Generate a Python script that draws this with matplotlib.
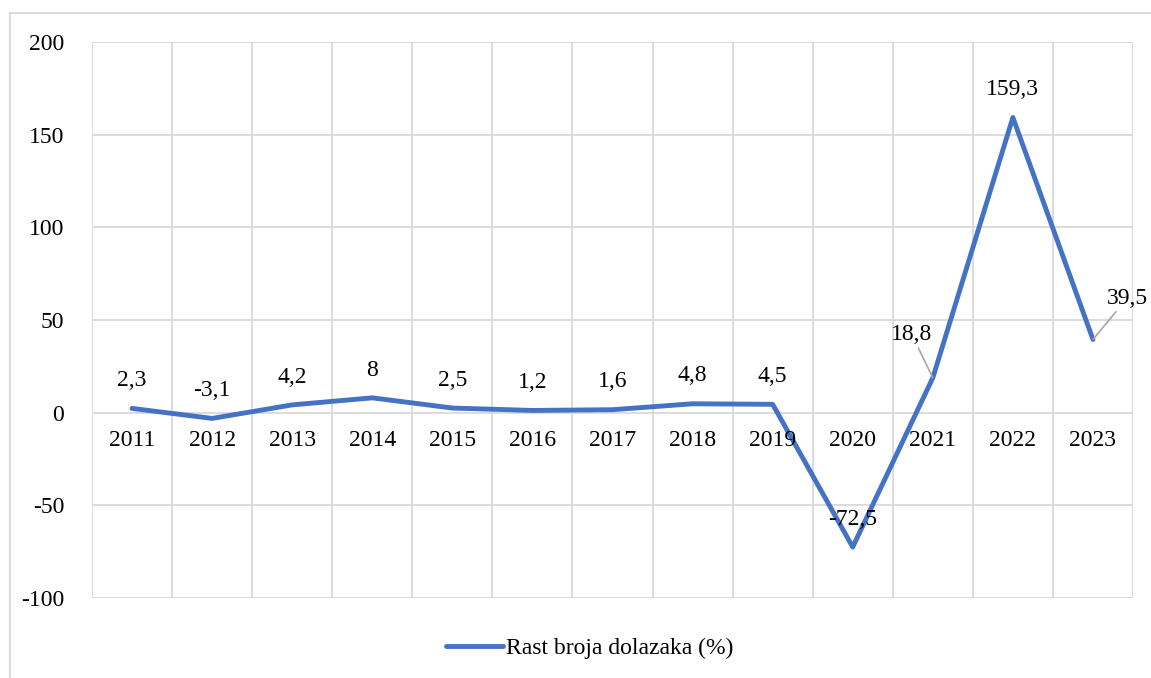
import matplotlib
matplotlib.use('Agg')
import matplotlib.pyplot as plt
from matplotlib.lines import Line2D
import numpy as np

plt.rcParams['font.family'] = ['Liberation Serif', 'DejaVu Serif']
plt.rcParams['axes.unicode_minus'] = False

# data
years = ['2011', '2012', '2013', '2014', '2015', '2016', '2017',
         '2018', '2019', '2020', '2021', '2022', '2023']
growth = [2.3, -3.1, 4.2, 8, 2.5, 1.2, 1.6, 4.8, 4.5, -72.5, 18.8, 159.3, 39.5]
y_ticks = [-100, -50, 0, 50, 100, 150, 200]
series_name = 'Rast broja dolazaka (%)'

blue = '#4472C4'
grid_col = '#d9d9d9'
fs = 17

fig = plt.figure(figsize=(11.51, 6.78), dpi=100)
ax = fig.add_axes([92 / 1151, 1 - 598 / 678, (1133 - 92) / 1151, (598 - 42) / 678])

x = np.arange(len(years))
ax.plot(x, growth, color=blue, lw=3.5, solid_joinstyle='round', solid_capstyle='round', zorder=3)

ax.set_xlim(-0.5, len(years) - 0.5)
ax.set_ylim(y_ticks[0], y_ticks[-1])
ax.set_yticks(y_ticks)
ax.set_yticklabels([str(t) for t in y_ticks], fontsize=fs)
ax.tick_params(axis='y', length=0, pad=20)
ax.set_xticks(np.arange(-0.5, len(years), 1.0))
ax.tick_params(axis='x', length=0, labelbottom=False)
ax.grid(True, color=grid_col, lw=1.3)
ax.set_axisbelow(True)
for s in ax.spines.values():
    s.set_visible(False)

# category labels sit just under the zero line
for i, yr in enumerate(years):
    ax.annotate(yr, (i, 0), xytext=(0, -20), textcoords='offset points',
                ha='center', va='center', fontsize=fs)

# data labels
offsets = {10: (-15, 31), 12: (24.5, 29.5)}
for i, v in enumerate(growth):
    lab = f'{v:g}'.replace('.', ',')
    if i in offsets:
        ax.annotate(lab, (i, v), xytext=offsets[i], textcoords='offset points',
                    ha='center', va='center', fontsize=fs,
                    arrowprops=dict(arrowstyle='-', color='#a6a6a6', lw=1.2,
                                    shrinkA=0, shrinkB=0))
    else:
        ax.annotate(lab, (i, v), xytext=(0, 20), textcoords='offset points',
                    ha='center', va='center', fontsize=fs)

# outer chart border (only top and left edges show in the image)
fig.add_artist(Line2D([10 / 1151, 1], [1 - 13 / 678] * 2, color=grid_col, lw=1.3))
fig.add_artist(Line2D([10 / 1151] * 2, [0, 1 - 13 / 678], color=grid_col, lw=1.3))

handle = Line2D([], [], color=blue, lw=3.5, solid_capstyle='round')
fig.legend([handle], [series_name], loc='center', bbox_to_anchor=(590 / 1151, 1 - 648 / 678),
           frameon=False, fontsize=fs, handlelength=2.4, handletextpad=0.15)

fig.savefig('out.png', dpi=100)
